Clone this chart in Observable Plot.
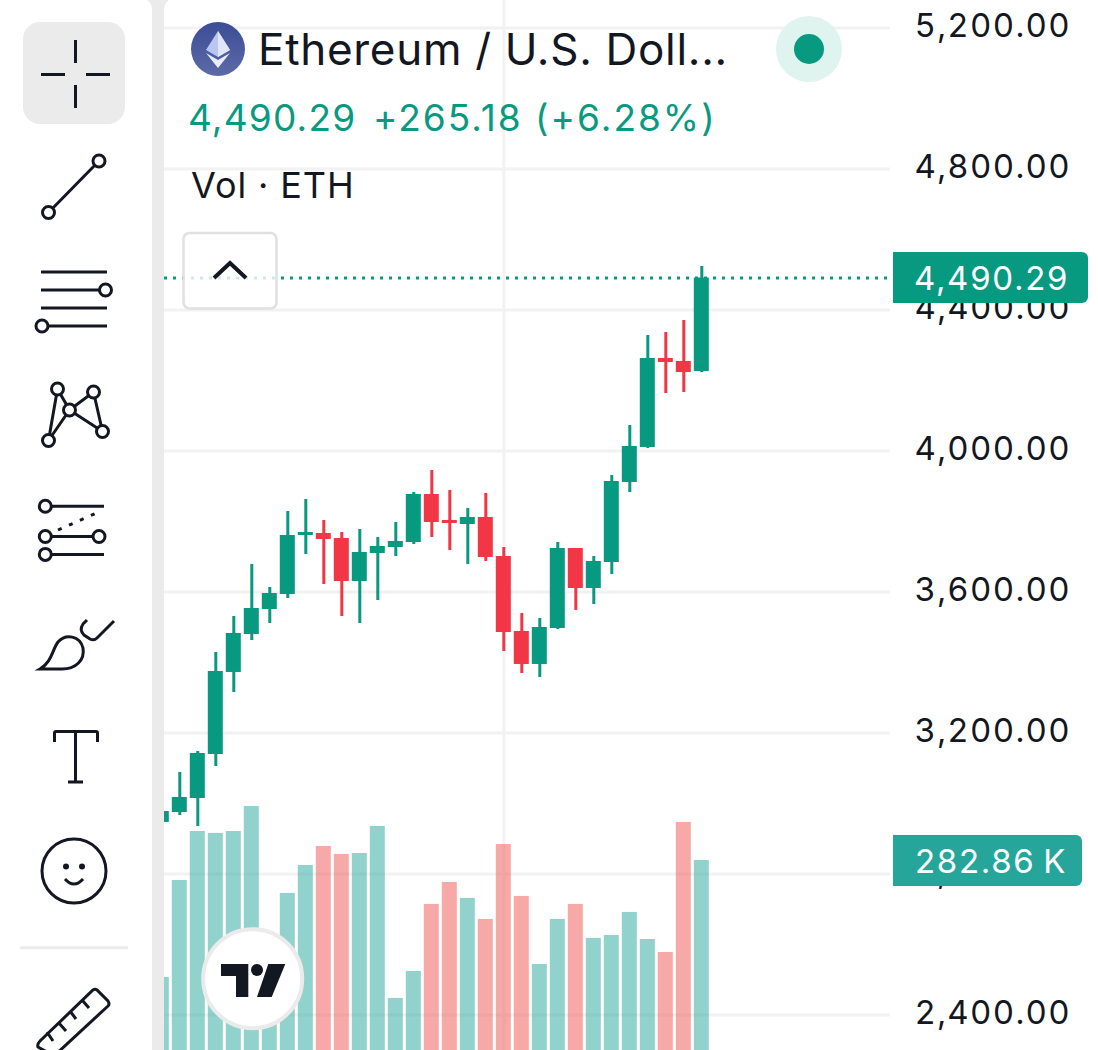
<!DOCTYPE html>
<html>
<head>
<meta charset="utf-8">
<script src="https://cdn.jsdelivr.net/npm/d3@7"></script>
<script src="https://cdn.jsdelivr.net/npm/@observablehq/plot@0.6"></script>
<style>
html,body{margin:0;padding:0;background:#fff;}
#wrap{position:relative;width:1098px;height:1050px;overflow:hidden;font-family:Inter,"Liberation Sans",sans-serif;color:#131722;}
#wrap>svg{position:absolute;left:0;top:0;}
.t{position:absolute;white-space:nowrap;line-height:1;}
.badge{position:absolute;left:893px;color:#fff;font-size:33px;letter-spacing:1.7px;border-radius:0 6px 6px 0;box-sizing:border-box;display:flex;align-items:center;white-space:nowrap;}
</style>
</head>
<body>
<div id="wrap"></div>
<script>
const opens  = [2946,2974.2,3013.9,3138.7,3371.4,3479.2,3550.1,3592.6,3760,3765.7,3751.5,3629.5,3708.9,3726,3740.1,3876.3,3802.6,3791.2,3811.1,3700.4,3487.7,3394.1,3496.2,3723.1,3609.7,3683.4,3910.4,4009.7,4262.1,4253.6,4225.11];
const closes = [2977,3016.8,3141.6,3374.2,3482,3552.9,3595.5,3760,3768.5,3748.7,3629.5,3711.8,3728.8,3743,3876.3,3796.9,3794.1,3811.1,3697.6,3484.8,3394.1,3499,3723.1,3609.7,3686.3,3913.2,4012.5,4262.1,4250.8,4222.4,4490.29];
const highs  = [2977,3087.7,3147.3,3428.1,3530.2,3677.7,3612.5,3828.1,3862.1,3802.6,3768.5,3777,3754.3,3796.9,3882,3944.4,3887.7,3836.6,3879.2,3726,3538.7,3524.6,3740.2,3723.1,3700.4,3930.2,4072.1,4327.4,4335.9,4369.9,4523.1];
const lows   = [2946,2965.7,2934.5,3104.7,3314.6,3462.1,3510.4,3581.3,3706.1,3621,3530.2,3510.4,3575.6,3700.4,3734.5,3754.3,3717.5,3677.7,3686.3,3430.9,3368.5,3357.2,3493.4,3547.3,3564.3,3649.4,3882,4006.8,4162.8,4165.7,4222];
const volumes = [160.3,261.9,313.2,311.2,313.2,339.4,190,248.3,277.6,297.5,289.2,290.2,318.5,138.3,166.6,236.8,259.8,243.1,221.1,299.6,245.2,173.9,221.1,236.8,201.2,204.3,228.4,200.1,186.5,322.7,282.86];
const priceTicks = [5200,4800,4400,4000,3600,3200,2800,2400];
const lastPrice = 4490.29;
const UP = "#089981", DOWN = "#f23645", VOL_UP = "#26a69a", VOL_DOWN = "#ef5350";

const candles = opens.map((o,i)=>{
  const up = closes[i]>=o;
  return {i,o,c:closes[i],h:highs[i],l:lows[i],v:volumes[i],col:up?UP:DOWN,vcol:up?VOL_UP:VOL_DOWN};
});
// Volume pane shares the frame: map volume (K) onto the price axis
const volToPrice = d3.scaleLinear([0,1000],[2072.1,4780.1]);
const bw = 0.417;

const chart = Plot.plot({
  width:1098,height:1050,
  marginLeft:164,marginRight:208,marginTop:0,marginBottom:0,
  x:{domain:[0.15,40.483],axis:null},
  y:{domain:[2299,5277.7],label:null,axis:null},
  color:{type:"identity"},
  style:{fontFamily:"Inter, 'Liberation Sans', sans-serif",color:"#131722",background:"transparent",overflow:"hidden"},
  marks:[
    Plot.ruleY(priceTicks,{stroke:"#f2f2f2",strokeWidth:3}),
    Plot.ruleX([19],{stroke:"#f2f2f2",strokeWidth:3}),
    Plot.rect(candles,{x1:d=>d.i-bw,x2:d=>d.i+bw,y1:d=>volToPrice(0),y2:d=>volToPrice(d.v),fill:"vcol",fillOpacity:0.5,clip:true}),
    Plot.ruleY([lastPrice],{stroke:UP,strokeWidth:3,strokeDasharray:"3,6"}),
    Plot.ruleX(candles,{x:"i",y1:"l",y2:"h",stroke:"col",strokeWidth:3,clip:true}),
    Plot.rect(candles,{x1:d=>d.i-bw,x2:d=>d.i+bw,y1:"o",y2:"c",fill:"col",clip:true}),
    Plot.axisY(priceTicks,{anchor:"right",tickSize:0,tickPadding:24,dy:-1,fontSize:33,label:null,tickFormat:d3.format(",.2f")})
  ]
});
const wrap=document.getElementById("wrap");
wrap.appendChild(chart);
chart.querySelectorAll("text").forEach(t=>t.style.letterSpacing="1.3px");

const overlay=`
<svg width="1098" height="1050" style="position:absolute;left:0;top:0" fill="none" stroke="#131722" stroke-width="3">
 <defs><linearGradient id="eth" x1="0" y1="0" x2="0" y2="1"><stop offset="0" stop-color="#3c4d97"/><stop offset="1" stop-color="#5c6aa6"/></linearGradient></defs>
 <path d="M147 0H169Q164 3 164 10V1050H152V10Q152 3 147 0Z" fill="#ebebeb" stroke="none"/>
 <rect x="23" y="22" width="102" height="102" rx="17" fill="#ebebeb" stroke="none"/>
 <path d="M75.5 40V63M75.5 85V108M41 74.5H65M86 74.5H110"/>
 <path d="M48.5 212.5L99 161"/><circle cx="48.5" cy="212.5" r="6" fill="#fff"/><circle cx="99" cy="161" r="6" fill="#fff"/>
 <path d="M41 272H107M41 290H100M41 308H107M48 326H107"/><circle cx="105.5" cy="290" r="6" fill="#fff"/><circle cx="42" cy="326" r="6" fill="#fff"/>
 <path d="M57.5 389L48.5 440.5L69.5 410L57.5 389M69.5 410L93.5 392L102.5 431.5L69.5 410"/>
 <circle cx="57.5" cy="389" r="6" fill="#fff"/><circle cx="93.5" cy="392" r="6" fill="#fff"/><circle cx="69.5" cy="410" r="6" fill="#fff"/><circle cx="102.5" cy="431.5" r="6" fill="#fff"/><circle cx="48.5" cy="440.5" r="6" fill="#fff"/>
 <path d="M51 506.3H104M51 554.4H104M51 536.5H93"/><path d="M58 530L101 511" stroke-dasharray="4,8"/>
 <circle cx="45.3" cy="506.3" r="6" fill="#fff"/><circle cx="45.3" cy="536.5" r="6" fill="#fff"/><circle cx="99" cy="536.5" r="6" fill="#fff"/><circle cx="45.3" cy="554.4" r="6" fill="#fff"/>
 <path d="M40 669C52 662 52 650 58 642C66 633 80 636 83 648C85 660 76 669 62 669Z"/>
 <path d="M87 620L83 624Q79 630 84 635L90 639Q94 641 97 638L114 621"/>
 <path d="M54.5 742V733Q54.5 731.5 56 731.5H96Q97.5 731.5 97.5 733V742M75.5 731.5V782M68 782H83"/>
 <circle cx="74" cy="871" r="32"/><circle cx="66" cy="866.6" r="3" fill="#131722" stroke="none"/><circle cx="82" cy="866.6" r="3" fill="#131722" stroke="none"/>
 <path d="M65 879Q74 889 83 879"/>
 <path d="M20 947.7H128" stroke="#ebebeb"/>
 <path d="M93 990Q95 988.5 97 990L108 1001Q110 1004 108 1006L54 1056L38 1047Q37 1044 40 1041ZM82 1000L89 1008M70 1011L76 1019M58 1022L66 1031M47 1032L53 1041"/>
 <circle cx="252.7" cy="978.7" r="49.5" fill="#fff" stroke="#ebebeb" stroke-width="4"/>
 <path d="M221 964H248.3V997H236V976H221Z" fill="#131722" stroke="none"/><circle cx="257" cy="970" r="6" fill="#131722" stroke="none"/><path d="M268.3 964H285.3L271.7 997H257Z" fill="#131722" stroke="none"/>
 <circle cx="218" cy="49" r="27" fill="url(#eth)" stroke="none"/>
 <path d="M218 31L206 50L218 57L230 50Z" fill="#b9c6f2" stroke="none"/><path d="M218 31V57L230 50Z" fill="#dfe5fb" stroke="none"/><path d="M206 53L218 68L230 53L218 60Z" fill="#e8ecfc" stroke="none"/>
 <circle cx="809" cy="49" r="33" fill="#dff3ef" stroke="none"/><circle cx="809" cy="49" r="15" fill="#089981" stroke="none"/>
 <rect x="183.5" y="233" width="93" height="75.5" rx="6" fill="#fff" fill-opacity="0.8" stroke="#e0e0e0" stroke-width="2.5"/>
 <path d="M214 278L230 263L246 278" stroke-width="4"/>
</svg>
<div class="t" style="left:258px;top:27px;font-size:44px;letter-spacing:.7px;color:#131722;">Ethereum / U.S. Doll...</div>
<div class="t" style="left:188px;top:99px;font-size:37px;color:#089981;letter-spacing:1.2px;">4,490.29</div>
<div class="t" style="left:373px;top:99px;font-size:37px;color:#089981;letter-spacing:2px;">+265.18 (+6.28%)</div>
<div class="t" style="left:191px;top:167px;font-size:36px;color:#131722;letter-spacing:.9px;">Vol · ETH</div>
<div class="badge" style="top:252px;width:195px;height:51px;padding-left:21px;background:#089981;">4,490.29</div>
<div class="badge" style="top:835px;width:189px;height:51px;padding-left:22px;background:#26a69a;">282.86\u2009K</div>`;
wrap.insertAdjacentHTML("beforeend",overlay);
</script>
</body>
</html>
